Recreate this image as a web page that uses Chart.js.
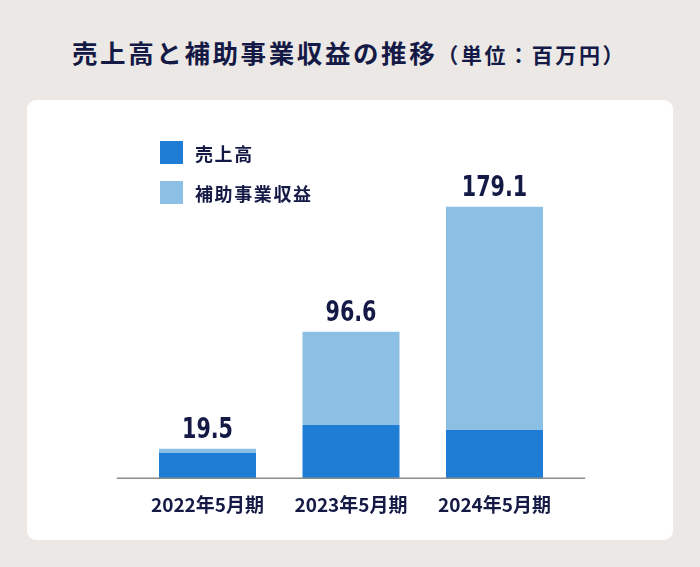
<!DOCTYPE html>
<html lang="ja">
<head>
<meta charset="utf-8">
<title>売上高と補助事業収益の推移</title>
<script src="https://cdn.jsdelivr.net/npm/chart.js@4/dist/chart.umd.min.js"></script>
<style>
  html, body { margin: 0; padding: 0; }
  body {
    width: 700px; height: 567px; position: relative; overflow: hidden;
    background: #ebe8e6;
    font-family: "Noto Sans CJK JP", "Noto Sans", sans-serif;
    color: #141a45;
  }
  #title {
    position: absolute; left: 72px; top: 35px; margin: 0;
    font-size: 25.5px; font-weight: 700; letter-spacing: 2.6px; line-height: 34px; white-space: nowrap;
  }
  #title small { font-size: 21px; letter-spacing: 2.6px; margin-left: 0; }
  #card {
    position: absolute; left: 27px; top: 100px; width: 646px; height: 440px;
    background: #fff; border-radius: 9px;
  }
  #chart { position: absolute; left: 0; top: 0; }
  #legend { position: absolute; left: 133px; top: 41px; }
  .item { display: flex; align-items: center; height: 23px; margin-bottom: 17px;
    font-size: 18px; font-weight: 700; letter-spacing: 1.6px; }
  .box { width: 23px; height: 23px; margin-right: 12px; }
</style>
</head>
<body>
<h1 id="title">売上高と補助事業収益の推移<small>（単位：百万円）</small></h1>
<div id="card">
  <canvas id="chart" width="646" height="440"></canvas>
  <div id="legend"></div>
</div>
<script>
// data (百万円)
var periods = ["2022年5月期", "2023年5月期", "2024年5月期"];
var seriesNames = ["売上高", "補助事業収益"];
var sales = [16.7, 35.1, 31.8];
var subsidy = [2.8, 61.5, 147.3];
var totals = ["19.5", "96.6", "179.1"];

var colors = ["#1f7dd6", "#8bbfe3"];
var navy = "#141a45";

// legend (html, built from the series)
var legend = document.getElementById("legend");
seriesNames.forEach(function(name, i){
  var row = document.createElement("div");
  row.className = "item";
  row.innerHTML = '<span class="box" style="background:' + colors[i] + '"></span>' + name;
  legend.appendChild(row);
});

// baseline a bit wider than the plot
var baseLine = {
  id: "baseLine",
  afterDatasetsDraw: function(chart){
    var ctx = chart.ctx, a = chart.chartArea;
    var y = chart.scales.y.getPixelForValue(0);
    ctx.save();
    ctx.strokeStyle = "#8c8c8c";
    ctx.lineWidth = 1.5;
    ctx.beginPath();
    ctx.moveTo(a.left - 19, y);
    ctx.lineTo(a.right + 19, y);
    ctx.stroke();
    ctx.restore();
  }
};

// totals above the stacks
var totalLabels = {
  id: "totalLabels",
  afterDatasetsDraw: function(chart){
    var ctx = chart.ctx;
    var meta = chart.getDatasetMeta(chart.data.datasets.length - 1);
    ctx.save();
    ctx.fillStyle = navy;
    ctx.font = "bold 28px 'DejaVu Sans Condensed', 'Liberation Sans Narrow', sans-serif";
    ctx.textAlign = "center";
    ctx.textBaseline = "alphabetic";
    meta.data.forEach(function(bar, i){
      // squeeze a little, the original numerals are narrow
      ctx.save();
      ctx.translate(bar.x, bar.y - 11);
      ctx.scale(0.82, 1);
      ctx.fillText(totals[i], 0, 0);
      ctx.restore();
    });
    ctx.restore();
  }
};

new Chart("chart", {
  type: "bar",
  data: {
    labels: periods,
    datasets: [
      { label: seriesNames[0], data: sales, backgroundColor: colors[0] },
      { label: seriesNames[1], data: subsidy, backgroundColor: colors[1] }
    ]
  },
  options: {
    responsive: false,
    animation: false,
    categoryPercentage: 1,
    barPercentage: 0.676,
    layout: { padding: { left: 108.75, right: 106.75, top: 75, bottom: 9 } },
    plugins: {
      legend: { display: false },
      tooltip: { enabled: false }
    },
    scales: {
      x: {
        stacked: true,
        grid: { display: false, drawTicks: false },
        border: { display: false },
        ticks: {
          padding: 15,
          color: navy,
          font: { family: "'Noto Sans CJK JP', sans-serif", size: 19, weight: "bold" }
        }
      },
      y: {
        stacked: true,
        display: false,
        min: 0,
        max: 200
      }
    }
  },
  plugins: [baseLine, totalLabels]
});
</script>
</body>
</html>
